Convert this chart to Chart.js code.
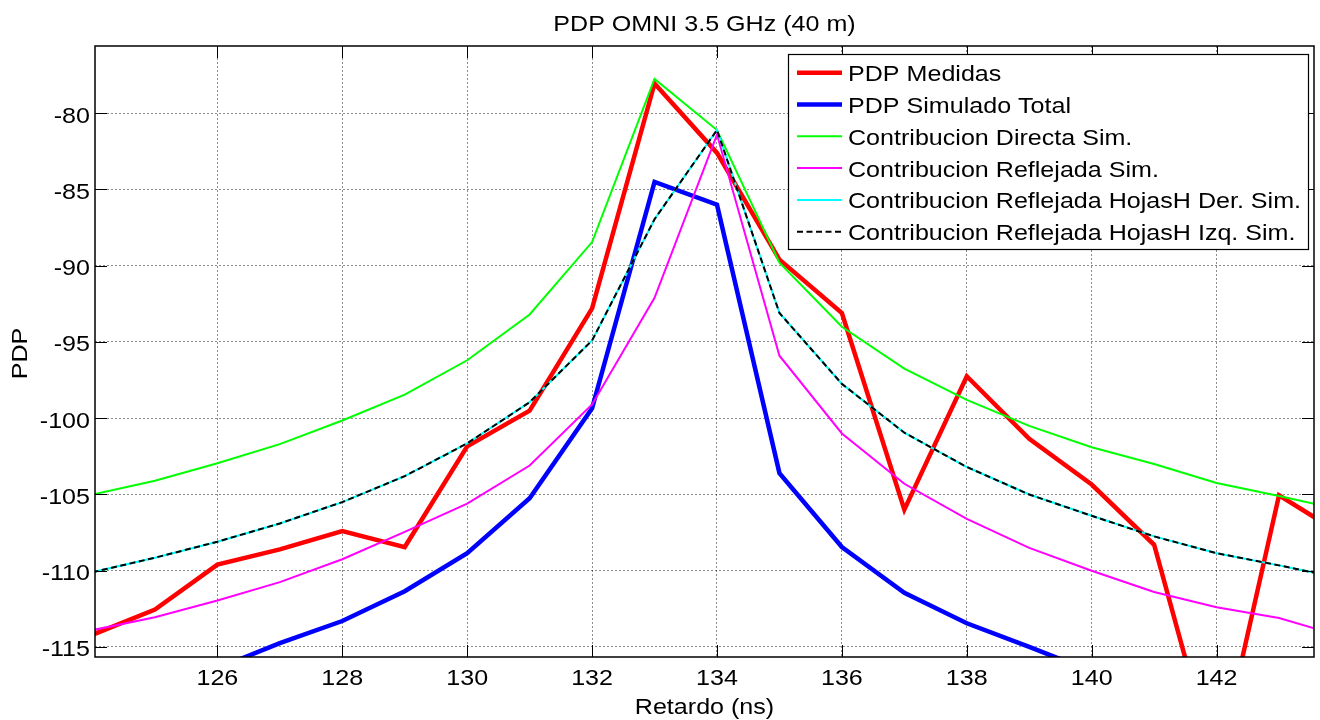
<!DOCTYPE html>
<html>
<head>
<meta charset="utf-8">
<script src="https://cdn.jsdelivr.net/npm/chart.js@4.4.0/dist/chart.umd.min.js"></script>
<style>
  html, body { margin: 0; padding: 0; background: #fff; }
  #wrap { width: 1320px; height: 720px; }
</style>
</head>
<body>
<div id="wrap"><canvas id="chart"></canvas></div>
<script>
// retardo en ns
const delays = [124, 125, 126, 127, 128, 129, 130, 131, 132, 133, 134, 135, 136, 137, 138, 139, 140, 141, 142, 143, 144]

const pdpMedidas = [-114.2, -112.55, -109.6, -108.6, -107.4, -108.45, -101.85, -99.5, -92.8, -78.05, -82.6, -89.6, -93.1, -106.0, -97.25, -101.35, -104.35, -108.3, -123.2, -105.05, -107.6]
const pdpSimTotal = [-120.0, -118.2, -116.4, -114.75, -113.3, -111.35, -108.85, -105.25, -99.35, -84.5, -86.0, -103.6, -108.45, -111.45, -113.45, -115.0, -116.6, -118.0, -119.3, -120.5, -121.5]
const contDirecta = [-105.0, -104.1, -102.95, -101.7, -100.15, -98.45, -96.2, -93.2, -88.45, -77.75, -81.1, -89.8, -94.0, -96.75, -98.8, -100.5, -101.9, -103.0, -104.25, -105.1, -106.0]
const contReflejada = [-113.9, -113.05, -111.95, -110.75, -109.25, -107.45, -105.6, -103.1, -99.1, -92.1, -81.4, -95.9, -101.0, -104.3, -106.6, -108.5, -110.0, -111.4, -112.4, -113.1, -114.3]
const contHojasDer = [-110.1, -109.15, -108.1, -106.9, -105.5, -103.8, -101.65, -98.95, -94.9, -86.95, -81.1, -93.1, -97.75, -100.95, -103.2, -105.0, -106.4, -107.75, -108.85, -109.65, -110.5]
const contHojasIzq = [-110.1, -109.15, -108.1, -106.9, -105.5, -103.8, -101.65, -98.95, -94.9, -86.95, -81.1, -93.1, -97.75, -100.95, -103.2, -105.0, -106.4, -107.75, -108.85, -109.65, -110.5]

const xTicks = [126, 128, 130, 132, 134, 136, 138, 140, 142]
const yTicks = [-115, -110, -105, -100, -95, -90, -85, -80]

const FONT = '"Liberation Sans", Arial, sans-serif'
const SX = 1.14  // el texto del original sale algo ensanchado

function pts(arr) {
  return delays.map((d, i) => ({ x: d, y: arr[i] }))
}

function ds(label, arr, color, width, dash, order) {
  return {
    label: label,
    data: pts(arr),
    borderColor: color,
    backgroundColor: color,
    borderWidth: width,
    borderDash: dash,
    pointRadius: 0,
    tension: 0,
    fill: false,
    order: order
  }
}

function txt(ctx, s, x, y, align, rot) {
  ctx.save()
  ctx.translate(x, y)
  if (rot) ctx.rotate(rot)
  ctx.scale(SX, 1)
  ctx.textAlign = align
  ctx.textBaseline = 'alphabetic'
  ctx.fillText(s, 0, 0)
  ctx.restore()
}

// ejes, caja, ticks hacia dentro y leyenda estilo matlab
const matlabDecor = {
  id: 'matlabDecor',
  afterDatasetsDraw(chart) {
    const { ctx, chartArea: a, scales } = chart
    ctx.save()
    ctx.strokeStyle = '#000'
    ctx.lineWidth = 1
    ctx.setLineDash([])
    ctx.beginPath()
    xTicks.forEach(v => {
      const px = Math.round(scales.x.getPixelForValue(v)) + 0.5
      ctx.moveTo(px, a.bottom); ctx.lineTo(px, a.bottom - 12)
      ctx.moveTo(px, a.top); ctx.lineTo(px, a.top + 12)
    })
    yTicks.forEach(v => {
      const py = Math.round(scales.y.getPixelForValue(v)) + 0.5
      ctx.moveTo(a.left, py); ctx.lineTo(a.left + 12, py)
      ctx.moveTo(a.right, py); ctx.lineTo(a.right - 12, py)
    })
    ctx.stroke()
    ctx.lineWidth = 1.5
    ctx.strokeRect(a.left, a.top, a.right - a.left, a.bottom - a.top)

    // leyenda
    const lx = 788, ly = 54, lw = 520, lh = 195
    ctx.fillStyle = '#fff'
    ctx.fillRect(lx, ly, lw, lh)
    ctx.lineWidth = 1.2
    ctx.strokeRect(lx + 0.5, ly + 0.5, lw, lh)
    ctx.font = '22px ' + FONT
    chart.data.datasets.forEach((d, i) => {
      const y = 72.7 + i * 31.8
      ctx.beginPath()
      ctx.strokeStyle = d.borderColor
      ctx.lineWidth = d.borderWidth
      ctx.setLineDash(d.borderDash || [])
      ctx.moveTo(797, y); ctx.lineTo(842, y)
      ctx.stroke()
      ctx.setLineDash([])
      ctx.fillStyle = '#000'
      txt(ctx, d.label, 848, y + 8.5, 'left')
    })
    ctx.restore()
  },
  afterDraw(chart) {
    const { ctx, chartArea: a, scales } = chart
    const cx = (a.left + a.right) / 2
    ctx.save()
    ctx.fillStyle = '#000'
    ctx.font = '22px ' + FONT
    xTicks.forEach(v => txt(ctx, String(v), scales.x.getPixelForValue(v), 685, 'center'))
    yTicks.forEach(v => txt(ctx, String(v), 90, scales.y.getPixelForValue(v) + 9.5, 'right'))
    txt(ctx, 'PDP OMNI 3.5 GHz (40 m)', cx, 31, 'center')
    txt(ctx, 'Retardo (ns)', cx, 714, 'center')
    txt(ctx, 'PDP', 27, (a.top + a.bottom) / 2 + 2, 'center', -Math.PI / 2)
    ctx.restore()
  }
}

new Chart(document.getElementById('chart'), {
  type: 'line',
  data: {
    datasets: [
      ds('PDP Medidas', pdpMedidas, '#ff0000', 4.5, [], 6),
      ds('PDP Simulado Total', pdpSimTotal, '#0000ff', 4.5, [], 5),
      ds('Contribucion Directa Sim.', contDirecta, '#00ff00', 2, [], 4),
      ds('Contribucion Reflejada Sim.', contReflejada, '#ff00ff', 2, [], 3),
      ds('Contribucion Reflejada HojasH Der. Sim.', contHojasDer, '#00ffff', 2, [], 2),
      ds('Contribucion Reflejada HojasH Izq. Sim.', contHojasIzq, '#000000', 2, [6, 3.5], 1)
    ]
  },
  options: {
    responsive: true,
    maintainAspectRatio: false,
    animation: false,
    layout: { padding: { top: 46, right: 6, left: 0, bottom: 0 } },
    plugins: {
      legend: { display: false },
      title: { display: false },
      tooltip: { enabled: false }
    },
    scales: {
      x: {
        type: 'linear',
        min: 124.04,
        max: 143.56,
        afterBuildTicks: s => { s.ticks = xTicks.map(v => ({ value: v })) },
        afterFit: s => { s.height = 63 },
        grid: { color: 'rgba(0,0,0,0.45)', drawTicks: false },
        border: { display: false, dash: [2, 2] },
        ticks: { display: false }
      },
      y: {
        min: -115.66,
        max: -75.59,
        afterBuildTicks: s => { s.ticks = yTicks.map(v => ({ value: v })) },
        afterFit: s => { s.width = 95 },
        grid: { color: 'rgba(0,0,0,0.45)', drawTicks: false },
        border: { display: false, dash: [2, 2] },
        ticks: { display: false }
      }
    }
  },
  plugins: [matlabDecor]
})
</script>
</body>
</html>
